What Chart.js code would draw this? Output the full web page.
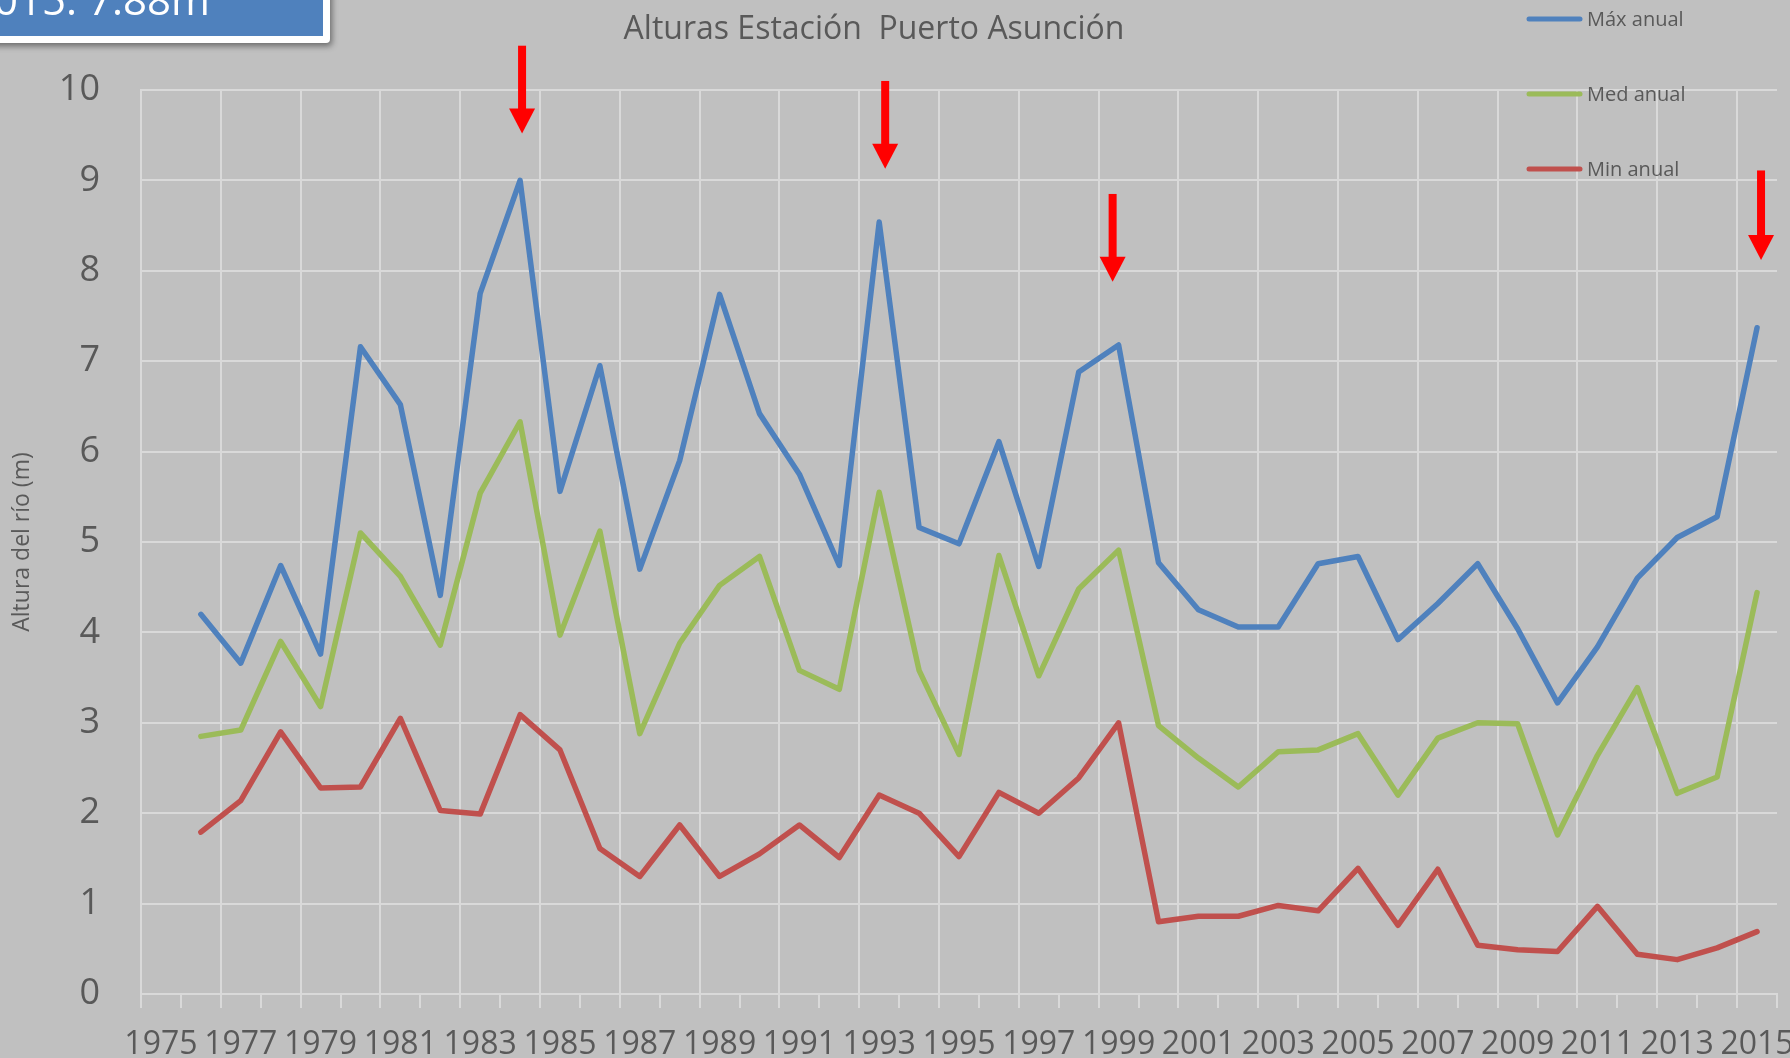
<!DOCTYPE html>
<html>
<head>
<meta charset="utf-8">
<script src="https://cdn.jsdelivr.net/npm/chart.js@4.4.1/dist/chart.umd.min.js"></script>
<style>
  html, body { margin: 0; padding: 0; background: #c0c0c0; overflow: hidden; }
  #wrap { position: relative; width: 1790px; height: 1058px; }
  canvas { display: block; }
</style>
</head>
<body>
<div id="wrap"><canvas id="c" width="1790" height="1058"></canvas></div>
<script>
// ---- Data ----
const categories = ['1975','1976','1977','1978','1979','1980','1981','1982','1983','1984',
  '1985','1986','1987','1988','1989','1990','1991','1992','1993','1994',
  '1995','1996','1997','1998','1999','2000','2001','2002','2003','2004',
  '2005','2006','2007','2008','2009','2010','2011','2012','2013','2014','2015'];

const xTickLabels = ['1975','1977','1979','1981','1983','1985','1987','1989','1991','1993',
  '1995','1997','1999','2001','2003','2005','2007','2009','2011','2013','2015'];

const yTickValues = [0,1,2,3,4,5,6,7,8,9,10];

const maxAnual = [null, 4.20, 3.66, 4.74, 3.76, 7.16, 6.52, 4.41, 7.75, 9.00,
  5.56, 6.95, 4.70, 5.90, 7.74, 6.42, 5.75, 4.74, 8.54, 5.16,
  4.98, 6.11, 4.73, 6.88, 7.18, 4.77, 4.25, 4.06, 4.06, 4.76,
  4.84, 3.92, 4.32, 4.76, 4.04, 3.22, 3.84, 4.60, 5.05, 5.28, 7.37];

const medAnual = [null, 2.85, 2.92, 3.90, 3.18, 5.10, 4.62, 3.86, 5.54, 6.33,
  3.97, 5.12, 2.88, 3.88, 4.52, 4.84, 3.58, 3.37, 5.55, 3.58,
  2.65, 4.85, 3.52, 4.48, 4.91, 2.97, 2.61, 2.29, 2.68, 2.70,
  2.88, 2.20, 2.83, 3.00, 2.99, 1.76, 2.64, 3.39, 2.22, 2.40, 4.44];

const minAnual = [null, 1.79, 2.14, 2.90, 2.28, 2.29, 3.05, 2.03, 1.99, 3.09,
  2.70, 1.61, 1.30, 1.87, 1.30, 1.55, 1.87, 1.51, 2.20, 2.00,
  1.52, 2.23, 2.00, 2.39, 3.00, 0.80, 0.86, 0.86, 0.98, 0.92,
  1.39, 0.76, 1.38, 0.54, 0.49, 0.47, 0.97, 0.44, 0.38, 0.51, 0.69];

const seriesNames = ['Máx anual', 'Med anual', 'Min anual'];

// Red arrows marking the flood peaks (category, small shift in categories, arrow top value, arrow tip value)
const arrowYears = ['1984', '1993', '1999', '2015'];
const arrowShift = [0.05, 0.15, -0.15, 0.1];
const arrowTop   = [10.49, 10.10, 8.85, 9.11];
const arrowTip   = [9.52, 9.13, 7.88, 8.12];

const titleText = 'Alturas Estación  Puerto Asunción';
const yAxisTitle = 'Altura del río (m)';
const noteText = '2015: 7.88m';

// ---- Styling ----
const TEXT = '#595959';
const GRID = '#d9d9d9';
const COLORS = ['#4F81BD', '#9BBB59', '#C0504D'];
const FONT = '"Open Sans", "DejaVu Sans", sans-serif';

const overlay = {
  id: 'overlay',
  afterDatasetsDraw(chart) {
    const ctx = chart.ctx;
    const xs = chart.scales.x, ys = chart.scales.y;
    ctx.save();
    ctx.fillStyle = '#FF0000';
    arrowYears.forEach((yr, i) => {
      const cx = xs.getPixelForValue(categories.indexOf(yr) + arrowShift[i]);
      const top = ys.getPixelForValue(arrowTop[i]);
      const tip = ys.getPixelForValue(arrowTip[i]);
      const headH = 25, headW = 13, shaft = 4;
      ctx.fillRect(cx - shaft, top, shaft * 2, tip - headH - top + 1);
      ctx.beginPath();
      ctx.moveTo(cx - headW, tip - headH);
      ctx.lineTo(cx + headW, tip - headH);
      ctx.lineTo(cx, tip);
      ctx.closePath();
      ctx.fill();
    });
    ctx.restore();
  },
  afterDraw(chart) {
    const ctx = chart.ctx;
    ctx.save();
    // title
    ctx.fillStyle = TEXT;
    ctx.font = '32px ' + FONT;
    ctx.textAlign = 'center';
    ctx.textBaseline = 'alphabetic';
    ctx.fillText(titleText, 874, 39);

    // legend
    const legendY = [19, 94, 169];
    ctx.font = '20px ' + FONT;
    ctx.textAlign = 'left';
    chart.data.datasets.forEach((ds, i) => {
      ctx.strokeStyle = ds.borderColor;
      ctx.lineWidth = 5;
      ctx.lineCap = 'round';
      ctx.beginPath();
      ctx.moveTo(1529, legendY[i]);
      ctx.lineTo(1580, legendY[i]);
      ctx.stroke();
      ctx.fillStyle = TEXT;
      ctx.fillText(ds.label, 1587, legendY[i] + 7);
    });

    // annotation box (top-left, partly cut off)
    ctx.save();
    ctx.shadowColor = 'rgba(0,0,0,0.45)';
    ctx.shadowBlur = 6;
    ctx.shadowOffsetX = 2;
    ctx.shadowOffsetY = 3;
    ctx.fillStyle = '#ffffff';
    ctx.beginPath();
    if (ctx.roundRect) ctx.roundRect(-30, -30, 360, 73, 4); else ctx.rect(-30, -30, 360, 73);
    ctx.fill();
    ctx.restore();
    ctx.fillStyle = '#4F81BD';
    ctx.fillRect(-30, -30, 353, 66);
    ctx.fillStyle = '#ffffff';
    ctx.font = '42px ' + FONT;
    ctx.textAlign = 'right';
    ctx.fillText(noteText, 210, 15);
    ctx.restore();
  }
};

const ctx = document.getElementById('c').getContext('2d');
new Chart(ctx, {
  type: 'line',
  data: {
    labels: categories,
    datasets: [
      { label: seriesNames[0], data: maxAnual, borderColor: COLORS[0], backgroundColor: COLORS[0] },
      { label: seriesNames[1], data: medAnual, borderColor: COLORS[1], backgroundColor: COLORS[1] },
      { label: seriesNames[2], data: minAnual, borderColor: COLORS[2], backgroundColor: COLORS[2] }
    ]
  },
  options: {
    responsive: false,
    animation: false,
    layout: { padding: { top: 90, right: 13, left: 0, bottom: 0 } },
    elements: {
      line: { borderWidth: 5.5, tension: 0, borderJoinStyle: 'round', borderCapStyle: 'round', fill: false },
      point: { radius: 0, hoverRadius: 0 }
    },
    plugins: {
      legend: { display: false },
      title: { display: false },
      tooltip: { enabled: false }
    },
    scales: {
      x: {
        type: 'category',
        offset: true,
        grid: {
          offset: true,
          color: (c) => (c.index % 2 === 0 && c.index <= 40) ? GRID : 'rgba(0,0,0,0)',
          lineWidth: 2,
          drawTicks: true,
          tickLength: 14,
          tickColor: GRID,
          tickWidth: 2
        },
        border: { display: true, color: GRID, width: 2 },
        ticks: {
          autoSkip: false,
          maxRotation: 0,
          minRotation: 0,
          padding: 18,
          color: TEXT,
          font: { family: FONT, size: 32 },
          callback: function (value) {
            const lab = this.getLabelForValue(value);
            return xTickLabels.includes(lab) ? lab : '';
          }
        },
        afterFit: (s) => { s.height = 64; s.paddingLeft = 0; s.paddingRight = 0; }
      },
      y: {
        min: 0,
        max: 10,
        afterBuildTicks: (s) => { s.ticks = yTickValues.map(v => ({ value: v })); },
        grid: { color: GRID, lineWidth: 2, drawTicks: false },
        border: { display: true, color: GRID, width: 2 },
        ticks: {
          padding: 41,
          color: TEXT,
          font: { family: FONT, size: 36 }
        },
        title: {
          display: true,
          text: yAxisTitle,
          color: TEXT,
          font: { family: FONT, size: 23 },
          padding: { top: 9, bottom: 0 }
        },
        afterFit: (s) => { s.width = 141; }
      }
    }
  },
  plugins: [overlay]
});
</script>
</body>
</html>
